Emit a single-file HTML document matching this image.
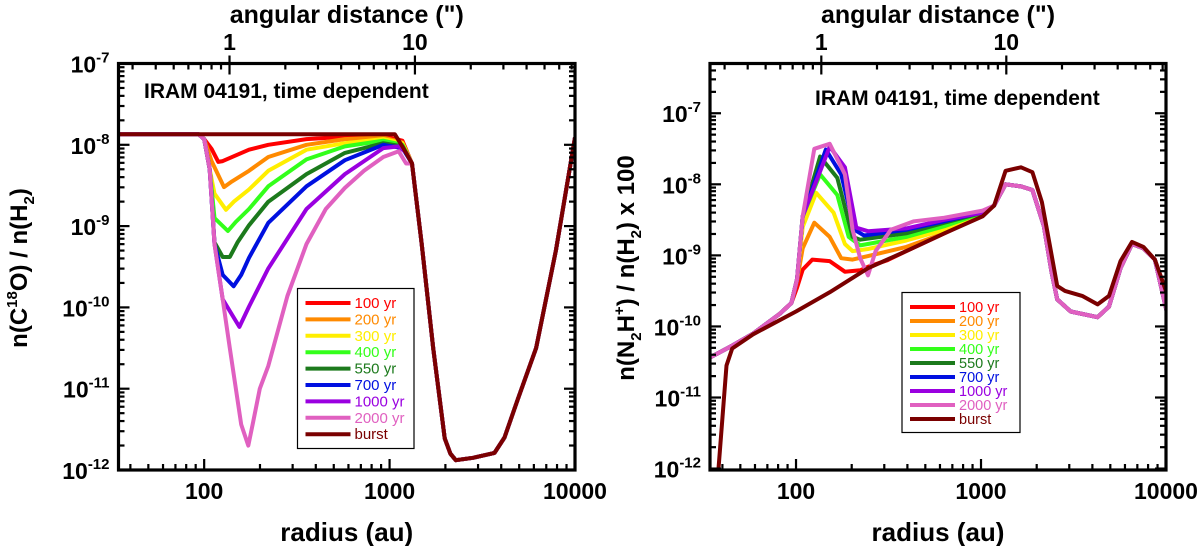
<!DOCTYPE html>
<html><head><meta charset="utf-8"><style>
html,body{margin:0;padding:0;background:#fff;width:1200px;height:546px;overflow:hidden}
svg{display:block}
text{font-family:"Liberation Sans",Arial,sans-serif;font-weight:bold;fill:#000}
</style></head><body>
<svg id="chart" width="1200" height="546" viewBox="0 0 1200 546" xmlns="http://www.w3.org/2000/svg"></svg>
<script>
// ---- data (log10 radius, log10 abundance) ----
const seriesNames = ["100 yr","200 yr","300 yr","400 yr","550 yr","700 yr","1000 yr","2000 yr","burst"];
const seriesColors = ["#ff0000","#ff8a00","#ffee00","#33ff1a","#1c7a1c","#0010e0","#9a00e0","#e060c0","#7a0000"];

const leftTail = [[3.121,-8.23],[3.173,-9.22],[3.235,-10.5],[3.297,-11.61],[3.328,-11.8],[3.357,-11.88],[3.45,-11.85],[3.566,-11.79],[3.62,-11.6],[3.69,-11.14],[3.79,-10.5],[3.897,-9.30],[4.0,-7.91]];
const leftHead = [[1.54,-7.87],[1.97,-7.87],[2.0,-7.93]];
const left100 = [[2.04,-8.05],[2.076,-8.21],[2.1,-8.2],[2.242,-8.06],[2.346,-8.0],[2.552,-7.93],[2.759,-7.90],[2.966,-7.89],[3.069,-7.95]];
const left200 = [[2.04,-8.2],[2.107,-8.52],[2.15,-8.45],[2.242,-8.32],[2.346,-8.15],[2.552,-8.0],[2.759,-7.93],[2.966,-7.91],[3.069,-7.97]];
const left300 = [[2.03,-8.3],[2.056,-8.6],[2.118,-8.80],[2.16,-8.7],[2.242,-8.55],[2.346,-8.32],[2.552,-8.06],[2.759,-7.98],[2.966,-7.93],[3.069,-7.98]];
const left400 = [[2.03,-8.3],[2.056,-8.9],[2.128,-9.06],[2.17,-8.95],[2.242,-8.79],[2.346,-8.51],[2.552,-8.18],[2.759,-8.02],[2.966,-7.95],[3.069,-8.0]];
const left550 = [[2.03,-8.3],[2.056,-9.2],[2.1,-9.38],[2.138,-9.38],[2.18,-9.2],[2.242,-8.99],[2.346,-8.70],[2.552,-8.36],[2.759,-8.10],[2.966,-7.98],[3.069,-8.02]];
const left700 = [[2.03,-8.3],[2.056,-9.22],[2.1,-9.6],[2.159,-9.74],[2.2,-9.6],[2.242,-9.39],[2.346,-8.96],[2.552,-8.51],[2.759,-8.19],[2.966,-8.0],[3.069,-8.04]];
const left1000 = [[2.03,-8.3],[2.056,-9.22],[2.1,-9.9],[2.19,-10.24],[2.242,-9.99],[2.346,-9.52],[2.552,-8.79],[2.759,-8.36],[2.966,-8.04],[3.049,-8.02],[3.09,-8.1]];
const left2000 = [[2.03,-8.3],[2.056,-9.22],[2.1,-9.9],[2.138,-10.5],[2.2,-11.44],[2.238,-11.70],[2.265,-11.4],[2.3,-11.0],[2.346,-10.72],[2.449,-9.86],[2.552,-9.22],[2.656,-8.79],[2.759,-8.53],[2.862,-8.32],[2.966,-8.15],[3.049,-8.08],[3.089,-8.23]];
const leftBurst = [[1.54,-7.87],[2.5,-7.87],[3.028,-7.87],[3.069,-8.02]];
const leftSeries = [left100,left200,left300,left400,left550,left700,left1000,left2000];

const rightHead = [[1.54,-10.43],[1.655,-10.27],[1.768,-10.10],[1.913,-9.82],[1.975,-9.67]];
const rightTail = [[3.071,-8.30],[3.133,-8.00],[3.216,-8.03],[3.278,-8.08],[3.34,-8.59],[3.381,-9.23],[3.412,-9.62],[3.485,-9.79],[3.63,-9.87],[3.692,-9.72],[3.754,-9.18],[3.816,-8.84],[3.878,-8.90],[3.94,-9.06],[4.002,-9.77]];
const right100 = [[2.006,-9.45],[2.036,-9.2],[2.088,-9.06],[2.182,-9.08],[2.264,-9.23],[2.347,-9.21],[2.389,-9.16],[2.492,-9.07],[2.596,-8.94],[2.802,-8.69],[3.009,-8.43]];
const right200 = [[2.006,-9.35],[2.036,-8.9],[2.099,-8.54],[2.182,-8.74],[2.244,-9.04],[2.306,-9.06],[2.389,-9.01],[2.596,-8.88],[2.802,-8.69],[3.009,-8.43]];
const right300 = [[2.006,-9.33],[2.036,-8.6],[2.109,-8.12],[2.203,-8.40],[2.264,-8.84],[2.306,-8.94],[2.389,-8.91],[2.596,-8.79],[2.802,-8.64],[3.009,-8.42]];
const right400 = [[2.006,-9.33],[2.036,-8.45],[2.130,-7.86],[2.223,-8.15],[2.285,-8.74],[2.347,-8.86],[2.596,-8.74],[2.802,-8.59],[3.009,-8.40]];
const right550 = [[2.006,-9.33],[2.036,-8.45],[2.130,-7.61],[2.223,-7.91],[2.306,-8.74],[2.347,-8.78],[2.596,-8.69],[2.802,-8.54],[3.009,-8.40]];
const right700 = [[2.006,-9.33],[2.036,-8.45],[2.161,-7.51],[2.244,-7.86],[2.316,-8.64],[2.368,-8.72],[2.596,-8.64],[2.802,-8.52],[3.009,-8.39]];
const right1000 = [[2.006,-9.33],[2.036,-8.45],[2.182,-7.47],[2.264,-7.76],[2.326,-8.61],[2.389,-8.66],[2.596,-8.62],[2.802,-8.50],[3.009,-8.40]];
const right2000 = [[2.006,-9.33],[2.036,-8.45],[2.099,-7.5],[2.182,-7.43],[2.264,-7.86],[2.306,-8.64],[2.347,-9.04],[2.389,-9.28],[2.430,-8.94],[2.513,-8.64],[2.637,-8.52],[2.802,-8.47],[3.009,-8.37]];
const rightBurst = [[1.575,-12.2],[1.624,-10.55],[1.655,-10.31],[1.768,-10.11],[2.0,-9.79],[2.182,-9.52],[2.389,-9.18],[2.596,-8.94],[2.802,-8.69],[3.009,-8.45],[3.071,-8.30],[3.133,-7.81],[3.216,-7.76],[3.278,-7.83],[3.329,-8.25],[3.371,-8.84],[3.412,-9.43],[3.454,-9.50],[3.547,-9.57],[3.63,-9.69],[3.692,-9.57],[3.754,-9.08],[3.816,-8.81],[3.878,-8.88],[3.94,-9.06],[4.002,-9.52]];
const rightSeries = [right100,right200,right300,right400,right550,right700,right1000,right2000];

const xTickValues = [100,1000,10000];
const xTickLabels = ["100","1000","10000"];
const topTickValues = [1,10];
const topTickLabels = ["1","10"];
const auPerArcsec = 137;

const NS="http://www.w3.org/2000/svg";
const svg=document.getElementById('chart');
function el(tag,attrs,parent){const e=document.createElementNS(NS,tag);for(const k in attrs)e.setAttribute(k,attrs[k]);(parent||svg).appendChild(e);return e;}

function panel(cfg){
  const g=el('g',{});
  
  
  const X=v=>cfg.x0+(Math.log10(v)-cfg.lx0)/(cfg.lx1-cfg.lx0)*(cfg.x1-cfg.x0);
  const XL=l=>cfg.x0+(l-cfg.lx0)/(cfg.lx1-cfg.lx0)*(cfg.x1-cfg.x0);
  const YL=l=>cfg.y1-(l-cfg.ly0)/(cfg.ly1-cfg.ly0)*(cfg.y1-cfg.y0);
  const cid='clip-'+cfg.name;
  const defs=el('defs',{},g);const cp=el('clipPath',{id:cid},defs);
  el('rect',{x:cfg.x0,y:cfg.y0,width:cfg.x1-cfg.x0,height:cfg.y1-cfg.y0},cp);
  const lines=el('g',{'clip-path':'url(#'+cid+')'},g);
  function draw(pts,i){
    const p=el('polyline',{points:pts.map(q=>XL(q[0]).toFixed(1)+','+YL(q[1]).toFixed(1)).join(' '),fill:'none',stroke:seriesColors[i],'stroke-width':4,'stroke-linejoin':'round'},lines);
    
    
  }
  cfg.series.forEach((s,i)=>draw(cfg.head.concat(s,cfg.tail),i));
  draw(cfg.burst.concat(cfg.burstTail||[]),8);
  const fr=el('rect',{x:cfg.x0,y:cfg.y0,width:cfg.x1-cfg.x0,height:cfg.y1-cfg.y0,fill:'none',stroke:'#000','stroke-width':3.2},g);
  
  
  const tk=el('g',{stroke:'#000','stroke-width':2.2},g);
  for(let d=1;d<=4;d++)for(let m=1;m<10;m++){const v=m*Math.pow(10,d);const l=Math.log10(v);if(l<cfg.lx0-1e-6||l>cfg.lx1+1e-6)continue;const x=X(v);const len=m===1?11:6;
    el('line',{x1:x,y1:cfg.y1,x2:x,y2:cfg.y1-len},tk);}
  for(let d=-1;d<=2;d++)for(let m=1;m<10;m++){const v=m*Math.pow(10,d)*auPerArcsec;const l=Math.log10(v);if(l<cfg.lx0||l>cfg.lx1)continue;const x=X(v);
    if(m===1)el('line',{x1:x,y1:cfg.y0-8,x2:x,y2:cfg.y0+11},tk);else el('line',{x1:x,y1:cfg.y0,x2:x,y2:cfg.y0+6},tk);}
  for(let d=-13;d<=-6;d++)for(let m=1;m<10;m++){const l=Math.log10(m)+d;if(l<cfg.ly0-1e-6||l>cfg.ly1+1e-6)continue;const y=YL(l);const len=m===1?11:6;
    el('line',{x1:cfg.x0,y1:y,x2:cfg.x0+len,y2:y},tk);el('line',{x1:cfg.x1,y1:y,x2:cfg.x1-len,y2:y},tk);}
  xTickValues.forEach((v,i)=>{const t=el('text',{x:X(v),y:cfg.y1+29,'text-anchor':'middle','font-size':23},g);t.textContent=xTickLabels[i];
    });
  topTickValues.forEach((v,i)=>{const t=el('text',{x:X(v*auPerArcsec),y:50,'text-anchor':'middle','font-size':23},g);t.textContent=topTickLabels[i];
    });
  for(let d=-12;d<=-7;d++){const y=YL(d);const t=el('text',{x:cfg.x0-9,y:y+9,'text-anchor':'end','font-size':23},g);
    t.innerHTML='10<tspan dy="-10" font-size="15">'+d+'</tspan>';
    }
  const cx=(cfg.x0+cfg.x1)/2;
  let t=el('text',{x:cx,y:23,'text-anchor':'middle','font-size':25},g);t.textContent='angular distance (")';
  
  t=el('text',{x:cx,y:541,'text-anchor':'middle','font-size':26},g);t.textContent='radius (au)';
  
  t=el('text',{x:0,y:0,'text-anchor':'middle','font-size':24,transform:'translate('+cfg.ytx+',268) rotate(-90)'},g);t.innerHTML=cfg.ytitle;
  
  t=el('text',{x:cfg.titleX,y:cfg.titleY,'font-size':21},g);t.textContent='IRAM 04191, time dependent';
  
  const L=cfg.leg;
  const lg=el('g',{},g);
  el('rect',{x:L.x,y:L.y,width:L.w,height:L.h,fill:'#fff',stroke:'#000','stroke-width':1.2},lg);
  seriesNames.forEach((n,i)=>{const y=L.y0+i*L.dy;
    const e=el('g',{},lg);
    el('line',{x1:L.x+8,y1:y,x2:L.x+53,y2:y,stroke:seriesColors[i],'stroke-width':4},e);
    const tt=el('text',{x:L.x+57,y:y+5,'font-size':L.fs,style:'font-weight:normal;fill:'+seriesColors[i]},e);tt.textContent=n;});
}

panel({name:'left-panel',x0:118.5,x1:575,y0:63.5,y1:470,lx0:1.538,lx1:4.0,ly0:-12,ly1:-7,
  series:leftSeries,head:leftHead,tail:leftTail,burst:leftBurst,burstTail:leftTail,
  ytx:27,ytitle:'n(C<tspan dy="-10" font-size="15">18</tspan><tspan dy="10">O) / n(H</tspan><tspan dy="7" font-size="15">2</tspan><tspan dy="-7">)</tspan>',
  titleX:144,titleY:98,leg:{x:297.5,y:288.5,w:116.5,h:160,y0:303,dy:16.4,fs:15}});
panel({name:'right-panel',x0:710,x1:1166,y0:63.5,y1:470,lx0:1.535,lx1:4.0,ly0:-12.02,ly1:-6.3,
  series:rightSeries,head:rightHead,tail:rightTail,burst:rightBurst,
  ytx:634,ytitle:'n(N<tspan dy="7" font-size="15">2</tspan><tspan dy="-7">H</tspan><tspan dy="-10" font-size="15">+</tspan><tspan dy="10">) / n(H</tspan><tspan dy="7" font-size="15">2</tspan><tspan dy="-7">) x 100</tspan>',
  titleX:815,titleY:105,leg:{x:902,y:292.5,w:118,h:140,y0:307,dy:14,fs:14.5}});
</script>
</body></html>
